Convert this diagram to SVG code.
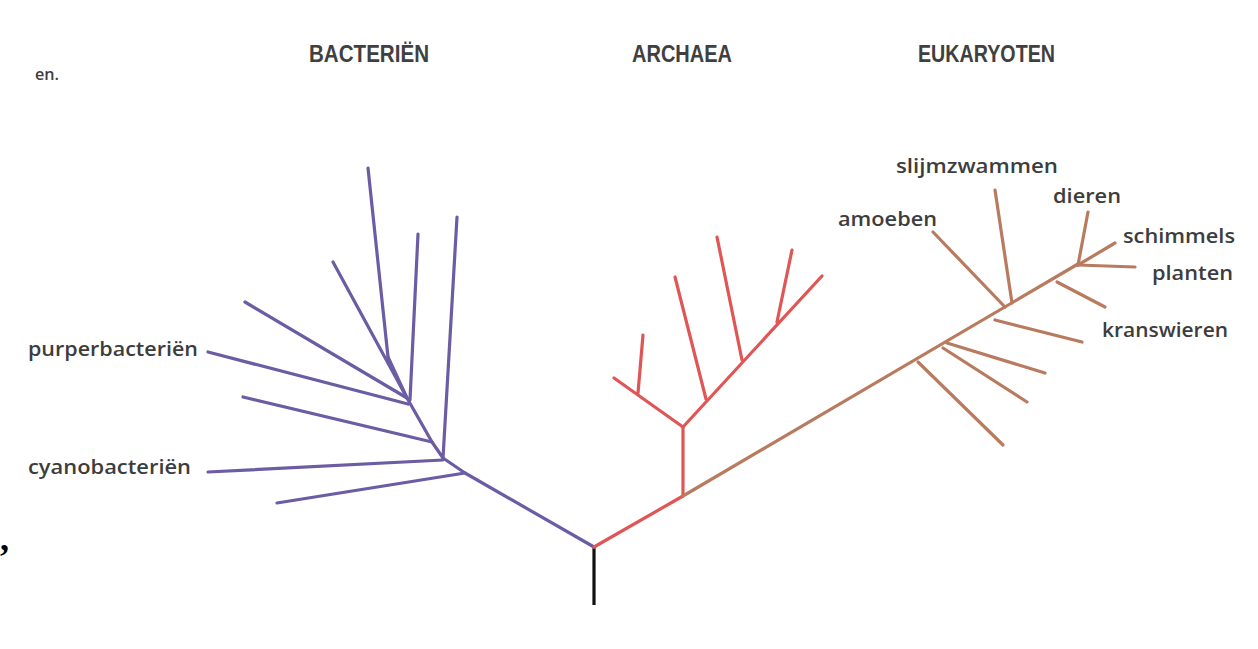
<svg xmlns="http://www.w3.org/2000/svg" width="1258" height="649" viewBox="0 0 1258 649">
<style>
.lbl{font-family:"Open Sans","Liberation Sans",sans-serif;font-size:20px;font-weight:600;fill:#3d3d3d}
.hdr{font-family:"Liberation Sans",Arial,sans-serif;font-size:23px;font-weight:bold;fill:#404040}
.b{stroke:#6b5ca3;stroke-width:3.2;fill:none;stroke-linecap:round;stroke-linejoin:round}
.a{stroke:#e05656;stroke-width:3.2;fill:none;stroke-linecap:round;stroke-linejoin:round}
.e{stroke:#b87b5f;stroke-width:3.2;fill:none;stroke-linecap:round;stroke-linejoin:round}
.r{stroke:#111;stroke-width:3.2;fill:none}
</style>
<rect width="1258" height="649" fill="#fff"/>
<g id="headers">
<text class="hdr" x="309" y="62" textLength="120" lengthAdjust="spacingAndGlyphs">BACTERIËN</text>
<text class="hdr" x="632" y="62" textLength="100" lengthAdjust="spacingAndGlyphs">ARCHAEA</text>
<text class="hdr" x="918" y="62" textLength="137" lengthAdjust="spacingAndGlyphs">EUKARYOTEN</text>
<text class="lbl" x="35" y="80" textLength="24" lengthAdjust="spacingAndGlyphs" style="font-size:17px">en.</text>
<text x="0" y="550" style="font-family:'Liberation Serif',serif;font-size:36px;font-weight:bold;fill:#000">,</text>
</g>
<g id="connectors">
<path class="r" d="M594,547 L594,605"/>
<g id="bacteria-tree">
<path class="b" d="M594,547 L465,473 L443,458 L432,442 L407,398 L388,357"/>
<path class="b" d="M388,357 L368,168"/>
<path class="b" d="M407,398 L333,262"/>
<path class="b" d="M410,400 L418,234"/>
<path class="b" d="M407,398 L245,302"/>
<path class="b" d="M408,404 L208,352"/>
<path class="b" d="M432,442 L243,397"/>
<path class="b" d="M443,458 L457,217"/>
<path class="b" d="M443,460 L208,472"/>
<path class="b" d="M465,473 L277,503"/>
</g>
<g id="archaea-tree">
<path class="a" d="M594,547 L683,496 L683,427"/>
<path class="a" d="M683,427 L614,378"/>
<path class="a" d="M643,335 L638,393"/>
<path class="a" d="M683,427 L822,276"/>
<path class="a" d="M675,277 L706,399"/>
<path class="a" d="M717,237 L742,360"/>
<path class="a" d="M792,250 L777,322"/>
</g>
<g id="eukaryote-tree">
<path class="e" d="M683,496 L1078,264"/>
<path class="e" d="M1078,265 L1088,212"/>
<path class="e" d="M1078,265 L1115,243"/>
<path class="e" d="M1078,265 L1135,267"/>
<path class="e" d="M1057,282 L1105,307"/>
<path class="e" d="M995,190 L1012,303"/>
<path class="e" d="M933,232 L1005,307"/>
<path class="e" d="M995,320 L1082,342"/>
<path class="e" d="M947,343 L1045,373"/>
<path class="e" d="M943,348 L1027,402"/>
<path class="e" d="M918,362 L1003,445"/>
</g>
</g>
<g id="labels">
<text class="lbl" x="28" y="356" textLength="170" lengthAdjust="spacingAndGlyphs">purperbacteriën</text>
<text class="lbl" x="28" y="474" textLength="163" lengthAdjust="spacingAndGlyphs">cyanobacteriën</text>
<text class="lbl" x="896" y="173" textLength="162" lengthAdjust="spacingAndGlyphs">slijmzwammen</text>
<text class="lbl" x="1053" y="203" textLength="68" lengthAdjust="spacingAndGlyphs">dieren</text>
<text class="lbl" x="838" y="226" textLength="99" lengthAdjust="spacingAndGlyphs">amoeben</text>
<text class="lbl" x="1123" y="243" textLength="112" lengthAdjust="spacingAndGlyphs">schimmels</text>
<text class="lbl" x="1152" y="280" textLength="81" lengthAdjust="spacingAndGlyphs">planten</text>
<text class="lbl" x="1102" y="337" textLength="126" lengthAdjust="spacingAndGlyphs">kranswieren</text>
</g>
</svg>
